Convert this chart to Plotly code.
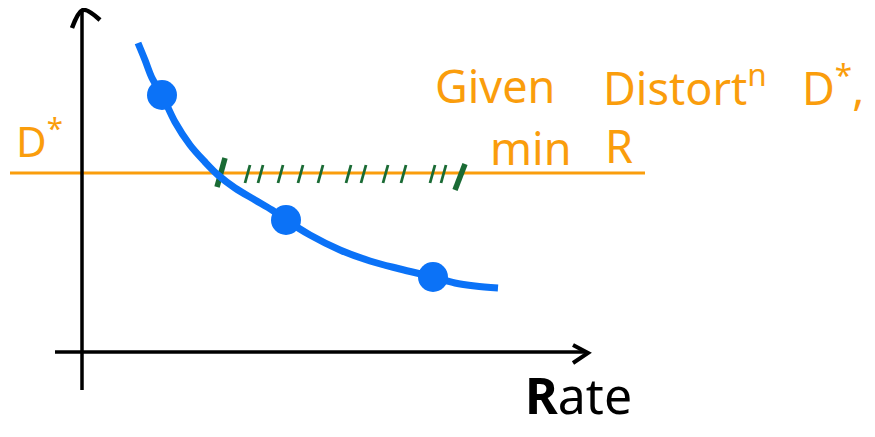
import plotly.graph_objects as go

# --- sketch data (canvas units: x right, y down, in page pixels) ---
curve_x = [138, 145, 152, 162, 175, 190, 205, 218, 235, 255, 272, 286, 310, 340, 370, 400, 433, 455, 475, 498]
curve_y = [43, 60, 78, 95, 122, 145, 162, 175, 188, 200, 210, 220, 235, 250, 261, 269, 277, 283, 286, 288]
dots_x = [162, 286, 433]
dots_y = [95, 220, 277]

dstar_level = 173
dstar_line_x = [10, 645]

yaxis_x = [82, 82]
yaxis_y = [390, 12]
yhead_x = [72, 83, 100]
yhead_y = [28, 10, 20]
xaxis_x = [55, 586]
xaxis_y = [352, 352]
xhead_x = [573, 588, 573]
xhead_y = [345, 353, 363]

big_tick_top_x = [225, 465]
big_tick_top_y = [158, 164]
big_tick_bot_x = [217, 455]
big_tick_bot_y = [187, 190]
hatch_x = [247, 260, 280, 300, 320, 348, 363, 385, 403, 432, 443]
hatch_top = 165
hatch_bot = 183

ORANGE = "#fa9d0c"
BLUE = "#0b72f7"
GREEN = "#1a6b35"
BLACK = "#000000"

# the page body keeps an 8px margin around the figure
PAGE_W, PAGE_H, BODY_M = 875, 437, 8

fig = go.Figure()

# D* level line
fig.add_trace(go.Scatter(x=dstar_line_x, y=[dstar_level, dstar_level], mode="lines",
                         line=dict(color=ORANGE, width=3), hoverinfo="skip"))

# axes with arrowheads
fig.add_trace(go.Scatter(x=yaxis_x, y=yaxis_y, mode="lines",
                         line=dict(color=BLACK, width=3.5), hoverinfo="skip"))
fig.add_trace(go.Scatter(x=yhead_x, y=yhead_y, mode="lines",
                         line=dict(color=BLACK, width=4.5, shape="spline"), hoverinfo="skip"))
fig.add_trace(go.Scatter(x=xaxis_x, y=xaxis_y, mode="lines",
                         line=dict(color=BLACK, width=3.5), hoverinfo="skip"))
fig.add_trace(go.Scatter(x=xhead_x, y=xhead_y, mode="lines",
                         line=dict(color=BLACK, width=4), hoverinfo="skip"))

# green hatching
hx, hy = [], []
for x in hatch_x:
    hx += [x + 3, x - 2, None]
    hy += [hatch_top, hatch_bot, None]
fig.add_trace(go.Scatter(x=hx, y=hy, mode="lines",
                         line=dict(color=GREEN, width=2.8), hoverinfo="skip"))
bx, by = [], []
for x0, y0, x1, y1 in zip(big_tick_top_x, big_tick_top_y, big_tick_bot_x, big_tick_bot_y):
    bx += [x0, x1, None]
    by += [y0, y1, None]
fig.add_trace(go.Scatter(x=bx, y=by, mode="lines",
                         line=dict(color=GREEN, width=5.5), hoverinfo="skip"))

# rate-distortion curve
fig.add_trace(go.Scatter(x=curve_x, y=curve_y, mode="lines",
                         line=dict(color=BLUE, width=7, shape="spline"), hoverinfo="skip"))
fig.add_trace(go.Scatter(x=dots_x, y=dots_y, mode="markers",
                         marker=dict(color=BLUE, size=30), hoverinfo="skip"))

FONT = "Noto Sans"
ann = [
    dict(text="D<sup>*</sup>", x=14, y=138, size=42, color=ORANGE),
    dict(text="Given", x=433, y=85, size=45, color=ORANGE),
    dict(text="Distort<sup>n</sup>", x=601, y=85, size=45, color=ORANGE),
    dict(text="D<sup>*</sup>,", x=800, y=85, size=45, color=ORANGE),
    dict(text="min", x=488, y=147, size=45, color=ORANGE),
    dict(text="R", x=603, y=145, size=45, color=ORANGE),
    dict(text="<b>R</b>ate", x=523, y=395, size=50, color=BLACK),
]
for a in ann:
    fig.add_annotation(text=a["text"], x=a["x"], y=a["y"], xref="x", yref="y",
                       xanchor="left", yanchor="middle", showarrow=False,
                       font=dict(family=FONT, size=a["size"], color=a["color"]))

fig.update_layout(
    width=PAGE_W - 2 * BODY_M, height=PAGE_H - 2 * BODY_M,
    margin=dict(l=0, r=0, t=0, b=0),
    paper_bgcolor="white", plot_bgcolor="white",
    showlegend=False,
    xaxis=dict(range=[BODY_M, PAGE_W - BODY_M], visible=False, fixedrange=True),
    yaxis=dict(range=[PAGE_H - BODY_M, BODY_M], visible=False, fixedrange=True),
)

fig.write_html("out.html")
